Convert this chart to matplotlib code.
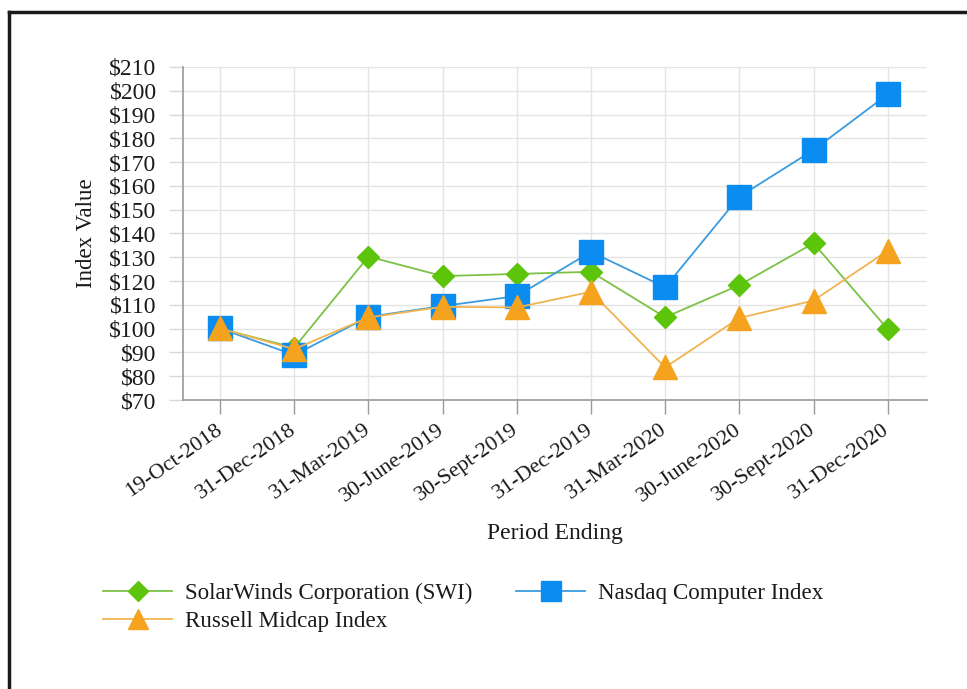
import matplotlib
matplotlib.use("Agg")
import matplotlib.pyplot as plt
from matplotlib.lines import Line2D

periods = ["19-Oct-2018", "31-Dec-2018", "31-Mar-2019", "30-June-2019", "30-Sept-2019",
           "31-Dec-2019", "31-Mar-2020", "30-June-2020", "30-Sept-2020", "31-Dec-2020"]
swi = [100, 92, 130.3, 122.1, 123, 123.9, 104.8, 118.3, 135.9, 99.8]
nasdaq = [100.1, 88.9, 105, 109.5, 113.7, 132.3, 117.4, 155.5, 175.1, 198.5]
russell = [100.1, 91.4, 104.7, 109.2, 108.9, 115.5, 83.7, 104.5, 111.8, 132.8]
yticks = list(range(70, 211, 10))
ytick_labels = ["$%d" % v for v in yticks]

plt.rcParams['font.family'] = ['Liberation Serif', 'DejaVu Serif']

W, H = 967, 689
fig = plt.figure(figsize=(W / 100, H / 100), dpi=100)
fig.patch.set_facecolor("white")

# frame (left and top visible)
fig.add_artist(Line2D([9 / W, 9 / W], [0, 1 - 12 / H], color="#1a1a1a", lw=2.5,
                      transform=fig.transFigure))
fig.add_artist(Line2D([9 / W, 1], [1 - 12 / H, 1 - 12 / H], color="#1a1a1a", lw=2.5,
                      transform=fig.transFigure))

ax = fig.add_axes([183 / W, 1 - 400 / H, (927 - 183) / W, (400 - 67) / H])
x = list(range(len(periods)))

green = "#5cc40a"
green_line = "#7cc246"
blue = "#0a8cf0"
blue_line = "#3a9be0"
orange = "#f5a31e"
orange_line = "#f0b450"

ax.plot(x, swi, color=green_line, lw=1.3, marker="D", markersize=11.5,
        markerfacecolor=green, markeredgecolor=green, zorder=3,
        label="SolarWinds Corporation (SWI)")
ax.plot(x, nasdaq, color=blue_line, lw=1.3, marker="s", markersize=17,
        markerfacecolor=blue, markeredgecolor=blue, zorder=4,
        label="Nasdaq Computer Index")
ax.plot(x, russell, color=orange_line, lw=1.3, marker="^", markersize=17,
        markerfacecolor=orange, markeredgecolor=orange, zorder=5,
        label="Russell Midcap Index")

ax.set_xlim(-0.5, 9.53)
ax.set_ylim(70, 210)
ax.set_yticks(yticks)
ax.set_yticklabels(ytick_labels)
ax.set_xticks(x)
ax.set_xticklabels(periods, rotation=35, ha="right", va="center", rotation_mode="anchor")

ax.grid(True, color="#e4e4e4", lw=1.0, zorder=0)
ax.set_axisbelow(True)
for s in ["top", "right"]:
    ax.spines[s].set_visible(False)
ax.spines["left"].set_color("#9a9a9a")
ax.spines["bottom"].set_color("#9a9a9a")
ax.spines["left"].set_linewidth(1.2)
ax.spines["bottom"].set_linewidth(1.2)
ax.tick_params(axis="y", length=10, color="#d8d8d8", width=1.0, labelsize=17, pad=9,
               labelcolor="#1a1a1a")
ax.tick_params(axis="x", length=10, color="#9a9a9a", width=1.0, labelsize=16, pad=10,
               labelcolor="#1a1a1a")

ax.set_ylabel("Index Value", fontsize=16.5, color="#1a1a1a", labelpad=9)
fig.text(555 / W, 1 - 534 / H, "Period Ending", ha="center", va="center",
         fontsize=17, color="#1a1a1a")

h, l = ax.get_legend_handles_labels()
order = [0, 2, 1]
leg = fig.legend([h[i] for i in order], [l[i] for i in order], ncol=2,
                 loc="upper left", bbox_to_anchor=(103 / W, 1 - 583 / H),
                 frameon=False, fontsize=16.6, handlelength=3.0, handletextpad=0.55,
                 columnspacing=1.9, labelspacing=0.3, markerscale=0.85,
                 borderpad=0, borderaxespad=0)
for t in leg.get_texts():
    t.set_color("#1a1a1a")

fig.savefig("out.png", dpi=100, facecolor="white")
